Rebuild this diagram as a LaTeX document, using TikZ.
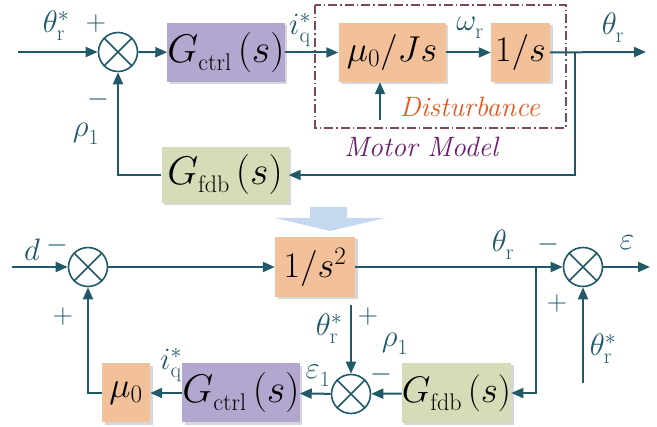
\RequirePackage{fix-cm}
\documentclass[tikz,border=0pt]{standalone}
\usetikzlibrary{arrows.meta,shadows}
\definecolor{ln}{HTML}{215968}
\definecolor{cpur}{HTML}{B4A7CF}
\definecolor{corg}{HTML}{F2C19A}
\definecolor{cgrn}{HTML}{D4DDB8}
\definecolor{cdash}{HTML}{7A4A58}
\definecolor{cdist}{HTML}{E8561E}
\definecolor{cmot}{HTML}{6A1B6E}
\definecolor{cblue}{HTML}{C6D8F0}
\newcommand\fs[1]{\fontsize{#1}{#1}\selectfont}
\newcommand\lbl[3]{{\fs{31}$#1_{\mathrm{#2}}^{#3}$}}
\newcommand\sgn[1]{{\fs{28}$#1$}}
\newcommand\Gt[2][40]{{\fs{#1}$G$\raisebox{-8pt}{\fs{24}#2}$\,(s)$}}
\tikzset{
  box/.style={inner sep=0pt, drop shadow={shadow xshift=2.5pt, shadow yshift=-2.5pt, fill=gray!45, opacity=0.7}},
  sumc/.style={circle, draw=ln, line width=1.6pt, minimum size=39pt, inner sep=0pt},
  con/.style={draw=ln, line width=2pt, -{Triangle[length=12pt,width=10pt]}},
  txt/.style={text=ln, inner sep=0pt}
}
\newcommand\cross[1]{\draw[ln, line width=1.6pt] (#1.45) -- (#1.225) (#1.135) -- (#1.-45);}
\begin{document}
\begin{tikzpicture}[x=1pt,y=-1pt]
\useasboundingbox (0,0) rectangle (657,427);
% ---------- top diagram ----------
\draw[cdash, line width=1.3pt, dash pattern=on 9pt off 3pt on 1.5pt off 3pt] (315,5) rectangle (566,128);
\node[sumc] (s1) at (118,52) {}; \cross{s1}
\coordinate (in1) at (18,52);
\node[box, fill=cpur, minimum width=115pt, minimum height=59pt] (gc) at (226,52.5) {\Gt{ctrl}};
\node[box, fill=corg, minimum width=107pt, minimum height=59pt] (mj) at (392,52.5) {\fs{36}$\mu_0/Js$};
\node[box, fill=corg, minimum width=59pt, minimum height=59pt] (is) at (520.5,52.5) {\fs{36}$1/s$};
\node[box, fill=cgrn, minimum width=127pt, minimum height=56pt] (gf) at (225,175) {\Gt{fdb}};
\coordinate (out1) at (646,52);
\coordinate (br1) at (575,52);
\coordinate (dist) at (380,120);
\draw[con] (in1) -- (s1);
\draw[con] (s1) -- (gc);
\draw[con] (gc) -- (mj);
\draw[con] (mj) -- (is);
\draw[con] (is) -- (out1);
\draw[con] (dist) -- (mj.south -| dist);
\draw[con] (br1) |- (gf);
\draw[con] (gf) -| (s1);
\node[txt] at (56,26) {\lbl{\theta}{r}{*}};
\node[txt] at (96,24) {\sgn{+}};
\node[txt] at (300,30) {\lbl{i}{q}{*}};
\node[txt] at (470,28) {\lbl{\omega}{r}{}};
\node[txt] at (613,28) {\lbl{\theta}{r}{}};
\node[txt] at (98,100) {\sgn{-}};
\node[txt] at (86,134) {\lbl{\rho}{1}{}};
\node[text=cdist, inner sep=0pt] at (470,107) {\fs{28}\textit{Disturbance}};
\node[text=cmot, inner sep=0pt] at (422,147) {\fs{28}\textit{Motor Model}};
% ---------- blue arrow ----------
\fill[cblue] (310,207) -- (347,207) -- (347,218) -- (385,218) -- (330,231) -- (275,218) -- (310,218) -- cycle;
% ---------- bottom diagram ----------
\node[sumc] (s2) at (88,267) {}; \cross{s2}
\node[sumc] (s3) at (583,267) {}; \cross{s3}
\node[sumc] (s4) at (351,394) {}; \cross{s4}
\node[box, fill=corg, minimum width=80pt, minimum height=60pt] (ss) at (315,267) {\fs{36}$1/s^{2}$};
\node[box, fill=corg, minimum width=48pt, minimum height=59pt] (mu) at (126,393) {\fs{36}$\mu_0$};
\node[box, fill=cpur, minimum width=112pt, minimum height=59pt] (gc2) at (241,393) {\Gt{ctrl}};
\node[box, fill=cgrn, minimum width=103pt, minimum height=60pt] (gf2) at (456.5,393) {\Gt[37]{fdb}};
\coordinate (in2) at (12,267);
\coordinate (out2) at (650,267);
\coordinate (br2) at (536,267);
\coordinate (in3) at (583,383);
\coordinate (in4) at (351,305);
\draw[con] (in2) -- (s2);
\draw[con] (s2) -- (ss);
\draw[con] (ss) -- (s3);
\draw[con] (s3) -- (out2);
\draw[con] (in3) -- (s3);
\draw[con] (br2) |- (gf2);
\draw[con] (gf2) -- (s4);
\draw[con] (in4) -- (s4);
\draw[con] (s4) -- (gc2);
\draw[con] (gc2) -- (mu);
\draw[con] (mu) -| (s2);
\node[txt] at (32,250) {\fs{31}$d$};
\node[txt] at (57,246) {\sgn{-}};
\node[txt] at (63,317) {\sgn{+}};
\node[txt] at (171,365) {\lbl{i}{q}{*}};
\node[txt] at (318,376) {\lbl{\varepsilon}{1}{}};
\node[txt] at (329,329) {\lbl{\theta}{r}{*}};
\node[txt] at (368,317) {\sgn{+}};
\node[txt] at (395,344) {\lbl{\rho}{1}{}};
\node[txt] at (381,375) {\sgn{-}};
\node[txt] at (503,245) {\lbl{\theta}{r}{}};
\node[txt] at (548,245) {\sgn{-}};
\node[txt] at (627,243) {\fs{32}$\varepsilon$};
\node[txt] at (557,304) {\sgn{+}};
\node[txt] at (603,349) {\lbl{\theta}{r}{*}};
\end{tikzpicture}
\end{document}
